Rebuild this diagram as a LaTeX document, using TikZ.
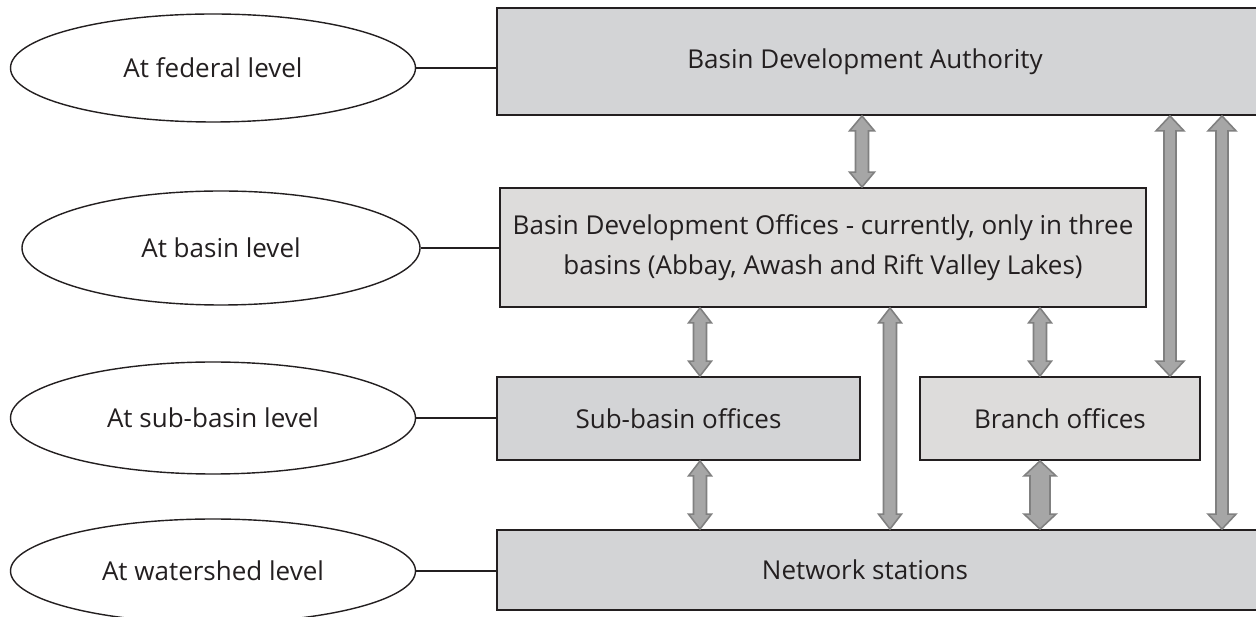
\documentclass[tikz,border=0pt]{standalone}
\usepackage{fontspec}
\setmainfont{Open Sans}
\usepackage{xcolor}
\usepackage{tikz}
\usetikzlibrary{arrows.meta,positioning,calc,shapes.geometric}

\definecolor{boxgray}{RGB}{211,212,214}
\definecolor{boxlight}{RGB}{221,220,219}
\definecolor{arrowfill}{RGB}{166,166,166}
\definecolor{arrowline}{RGB}{128,128,128}
\definecolor{inkdark}{RGB}{35,31,32}

% two-headed block arrow between two nodes, at a given x
% #1 x, #2 upper node, #3 lower node, #4 half shaft, #5 half head
\newcommand{\twoway}[5]{%
  \draw[twoway] let \p1=(#1,0 |- #2.south), \p2=(#1,0 |- #3.north),
    \n1={#4*0.569pt}, \n2={#5*0.569pt}, \n3={8.5pt} in
    (\x1,\y1) -- (\x1+\n2,\y1-\n3) -- (\x1+\n1,\y1-\n3) -- (\x1+\n1,\y2+\n3)
    -- (\x1+\n2,\y2+\n3) -- (\x1,\y2) -- (\x1-\n2,\y2+\n3) -- (\x1-\n1,\y2+\n3)
    -- (\x1-\n1,\y1-\n3) -- (\x1-\n2,\y1-\n3) -- cycle;
}

\begin{document}
\begin{tikzpicture}[x=0.02cm,y=-0.02cm,
  every node/.style={text=inkdark,font=\fontsize{14.8}{22.5}\selectfont},
  level/.style={draw=inkdark,line width=0.8pt,ellipse,inner sep=0pt},
  unit/.style={draw=inkdark,line width=1.1pt,fill=boxgray,inner sep=0pt,align=center},
  twoway/.style={draw=arrowline,fill=arrowfill,line width=0.9pt,line join=miter}]
\clip (0,0) rectangle (1256,617);

\node[level,minimum width=405*0.02cm,minimum height=108*0.02cm] (fed) at (213,68) {At federal level};
\node[level,minimum width=398*0.02cm,minimum height=114*0.02cm] (bas) at (221,248) {At basin level};
\node[level,minimum width=405*0.02cm,minimum height=112*0.02cm] (sub) at (213,418) {At sub-basin level};
\node[level,minimum width=405*0.02cm,minimum height=104*0.02cm] (wat) at (213,571) {At watershed level};

\node[unit,minimum width=766*0.02cm,minimum height=107*0.02cm] (bda) at (880,61.5) {\hspace*{-6mm}Basin Development Authority};
\node[unit,fill=boxlight,minimum width=646*0.02cm,minimum height=119*0.02cm] (bdo) at (823,247.5)
  {Basin Development Offices - currently, only in three\\basins (Abbay, Awash and Rift Valley Lakes)};
\node[unit,minimum width=363*0.02cm,minimum height=83*0.02cm] (sbo) at (678.5,418.5) {Sub-basin offices};
\node[unit,fill=boxlight,minimum width=280*0.02cm,minimum height=83*0.02cm] (bro) at (1060,418.5) {Branch offices};
\node[unit,minimum width=766*0.02cm,minimum height=80*0.02cm] (net) at (880,570) {\hspace*{-6mm}Network stations};

\draw[inkdark,line width=0.9pt] (fed.east) -- (fed.east -| bda.west);
\draw[inkdark,line width=0.9pt] (bas.east) -- (bas.east -| bdo.west);
\draw[inkdark,line width=0.9pt] (sub.east) -- (sub.east -| sbo.west);
\draw[inkdark,line width=0.9pt] (wat.east) -- (wat.east -| net.west);

\foreach \px/\up/\lo/\sh/\hd in {862/bda/bdo/6.5/12.5, 700/bdo/sbo/6.5/11.5, 890/bdo/net/6.5/11.5,
  1040/bdo/bro/6.5/11.5, 700/sbo/net/6.5/11.5, 1040/bro/net/10/16,
  1170/bda/bro/6/14, 1222/bda/net/6/14}
  \twoway{\px}{\up}{\lo}{\sh}{\hd};
\end{tikzpicture}
\end{document}
